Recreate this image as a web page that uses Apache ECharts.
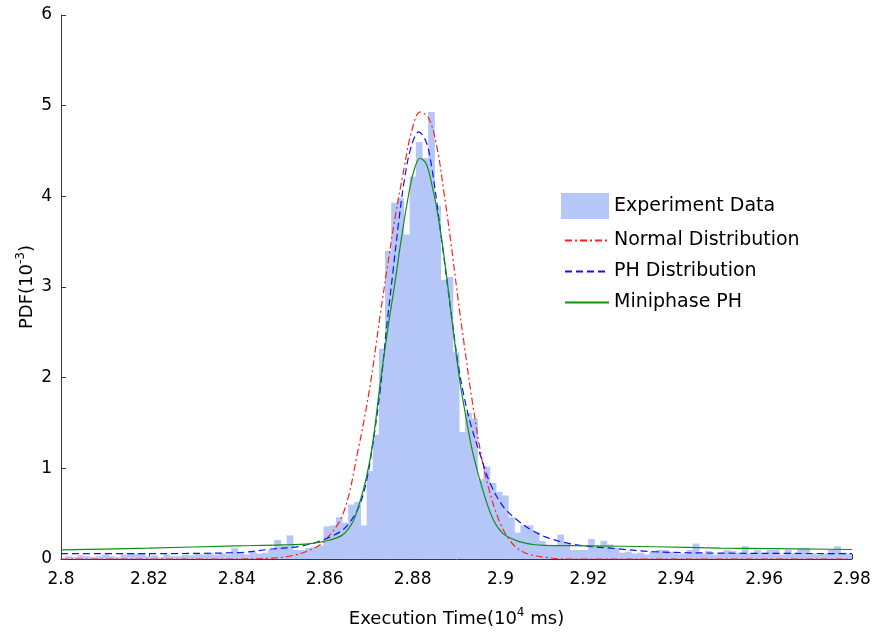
<!DOCTYPE html>
<html>
<head>
<meta charset="utf-8">
<script src="https://cdn.jsdelivr.net/npm/echarts@6/dist/echarts.min.js"></script>
<style>
  html, body { margin: 0; padding: 0; background: #fff; }
  #chart { width: 874px; height: 633px; }
</style>
</head>
<body>
<div id="chart"></div>
<script>
// ---- data ----
const xTicks = [2.8, 2.82, 2.84, 2.86, 2.88, 2.9, 2.92, 2.94, 2.96, 2.98];
const yTicks = [0, 1, 2, 3, 4, 5, 6];

// histogram bins: first left edge and bin width, then bar heights
const binStart = 2.80094;
const binWidth = 0.0014;
const histValues = [
  0.03,0.02,0.04,0.03,0.02,0.03,0.05,0.03,0.02,0.05,
  0.06,0.06,0.06,0.03,0.04,0.02,0.05,0.03,0.03,0.05,
  0.04,0.06,0.05,0.07,0.05,0.06,0.05,0.12,0.07,0.05,
  0.08,0.06,0.07,0.10,
  0.21,0.15,0.26,0.10,0.10,0.12,0.13,0.15,0.36,0.37,0.46,0.40,0.60,0.63,0.37,0.97,1.37,2.32,
  3.40,3.93,3.98,3.58,4.22,4.60,4.42,4.93,3.90,3.08,3.11,2.28,1.40,1.61,1.55,
  0.88,1.02,0.84,0.74,0.70,0.46,0.29,0.37,0.37,0.30,
  0.20,0.15,0.15,0.27,0.17,0.10,0.10,0.10,0.22,0.14,0.20,0.16,
  0.12,0.07,0.08,0.06,0.07,0.05,0.08,0.10,0.10,0.08,
  0.05,0.06,0.10,0.17,0.06,0.09,0.05,0.06,0.10,0.09,
  0.07,0.14,0.06,0.10,0.06,0.10,0.10,0.05,0.10,0.06,
  0.12,0.12,0.06,0.05,0.06,0.10,0.14,0.07,0.06
];

const normalCurve = [
  [2.80,0],[2.84,0],[2.848,0.01],[2.852,0.03],[2.8567,0.1],[2.86,0.2],[2.8642,0.5],
  [2.8676,1.2],[2.8703,1.9],[2.8726,2.68],[2.8742,3.2],[2.8758,3.7],[2.8778,4.24],
  [2.8797,4.7],[2.8817,4.93],[2.8837,4.86],[2.8856,4.53],[2.8871,4.06],[2.8887,3.5],
  [2.8904,2.85],[2.8918,2.35],[2.8934,1.8],[2.8954,1.2],[2.8971,0.82],[2.8999,0.4],
  [2.9029,0.16],[2.906,0.06],[2.91,0.02],[2.915,0],[2.98,0]
];
const phCurve = [
  [2.80,0.06],[2.82,0.06],[2.84,0.07],[2.848,0.11],[2.8544,0.14],[2.859,0.2],[2.8635,0.3],
  [2.8658,0.41],[2.868,0.6],[2.8696,0.88],[2.871,1.28],[2.8726,1.85],[2.8742,2.6],
  [2.8755,3.15],[2.8768,3.7],[2.8782,4.2],[2.8797,4.55],[2.8814,4.71],[2.8831,4.6],
  [2.8844,4.31],[2.8856,3.9],[2.8868,3.45],[2.888,3.0],[2.8892,2.56],[2.8903,2.17],
  [2.8916,1.82],[2.8932,1.49],[2.8954,1.15],[2.8976,0.84],[2.9006,0.58],[2.9038,0.43],
  [2.9074,0.31],[2.911,0.23],[2.9158,0.17],[2.92,0.14],[2.925,0.12],[2.935,0.08],
  [2.95,0.065],[2.98,0.06]
];
const miniCurve = [
  [2.80,0.10],[2.82,0.12],[2.84,0.145],[2.85,0.155],[2.8567,0.17],[2.8612,0.21],
  [2.8642,0.27],[2.8665,0.42],[2.868,0.63],[2.8696,0.92],[2.871,1.3],[2.8726,1.92],
  [2.8744,2.55],[2.876,3.05],[2.8775,3.55],[2.879,3.99],[2.8803,4.28],
  [2.8817,4.42],[2.8831,4.36],[2.8844,4.13],[2.8856,3.84],[2.8867,3.5],[2.8878,3.1],
  [2.889,2.62],[2.8908,1.95],[2.8924,1.5],[2.8938,1.15],[2.8961,0.74],[2.8983,0.44],
  [2.9006,0.28],[2.9038,0.2],[2.9074,0.16],[2.91,0.15],[2.92,0.145],[2.935,0.135],
  [2.95,0.12],[2.98,0.105]
];

const seriesNames = ['Experiment Data', 'Normal Distribution', 'PH Distribution', 'Miniphase PH'];

// ---- build chart ----
const histData = histValues.map((v, i) => [binStart + i * binWidth, binStart + (i + 1) * binWidth, v]);
const FONT = 'DejaVu Sans';
const chart = echarts.init(document.getElementById('chart'), null, { renderer: 'canvas' });

chart.setOption({
  backgroundColor: '#ffffff',
  animation: false,
  grid: { left: 61, right: 22, top: 15, bottom: 67, containLabel: false },
  legend: [
    {
      data: [{ name: seriesNames[0], icon: 'rect' }],
      left: 556, top: 188, itemWidth: 48, itemHeight: 26,
      selectedMode: false,
      textStyle: { fontFamily: FONT, fontSize: 19, color: '#000' }
    },
    {
      data: [seriesNames[1], seriesNames[2], seriesNames[3]],
      orient: 'vertical', left: 559, top: 226, itemWidth: 44, itemHeight: 20, itemGap: 12,
      selectedMode: false,
      itemStyle: { opacity: 0 },
      textStyle: { fontFamily: FONT, fontSize: 19, color: '#000' }
    }
  ],
  xAxis: {
    type: 'value', min: 2.8, max: 2.98, interval: 0.02,
    name: 'Execution Time(10{sup|4} ms)',
    nameLocation: 'middle', nameGap: 48,
    nameMoveOverlap: false,
    nameTextStyle: {
      fontFamily: FONT, fontSize: 18, color: '#000',
      rich: { sup: { fontFamily: FONT, fontSize: 12, color: '#000', verticalAlign: 'top', padding: [0, 0, 12, 0] } }
    },
    axisLine: { show: true, lineStyle: { color: '#3a3a3a', width: 1 } },
    axisTick: { show: true, inside: true, length: 5, lineStyle: { color: '#3a3a3a' } },
    axisLabel: {
      fontFamily: FONT, fontSize: 17, color: '#000', margin: 12,
      formatter: v => String(+v.toFixed(2))
    },
    splitLine: { show: false }
  },
  yAxis: {
    type: 'value', min: 0, max: 6, interval: 1,
    name: 'PDF(10{sup|-3})',
    nameLocation: 'middle', nameGap: 22, nameRotate: 90,
    nameMoveOverlap: false,
    nameTextStyle: {
      fontFamily: FONT, fontSize: 18, color: '#000',
      rich: { sup: { fontFamily: FONT, fontSize: 12, color: '#000', padding: [0, 0, 12, 0] } }
    },
    axisLine: { show: true, lineStyle: { color: '#3a3a3a', width: 1 } },
    axisTick: { show: true, inside: true, length: 5, lineStyle: { color: '#3a3a3a' } },
    axisLabel: { fontFamily: FONT, fontSize: 17, color: '#000', margin: 9 },
    splitLine: { show: false }
  },
  series: [
    {
      name: seriesNames[0],
      type: 'custom',
      clip: true,
      data: histData,
      encode: { x: [0, 1], y: 2 },
      itemStyle: { color: '#b4c7f8' },
      renderItem: function (params, api) {
        const p0 = api.coord([api.value(0), api.value(2)]);
        const p1 = api.coord([api.value(1), 0]);
        return {
          type: 'rect',
          shape: { x: p0[0], y: p0[1], width: p1[0] - p0[0] + 0.6, height: p1[1] - p0[1] },
          style: { fill: '#b4c7f8' }
        };
      },
      z: 1
    },
    {
      name: seriesNames[1], type: 'line', data: normalCurve, smooth: 0.35,
      symbol: 'none', lineStyle: { color: '#ff2020', width: 1.2, type: [7, 3, 2, 3] },
      itemStyle: { color: '#ff2020' }, z: 3
    },
    {
      name: seriesNames[2], type: 'line', data: phCurve, smooth: 0.35,
      symbol: 'none', lineStyle: { color: '#1010ff', width: 1.2, type: [7, 4] },
      itemStyle: { color: '#1010ff' }, z: 4
    },
    {
      name: seriesNames[3], type: 'line', data: miniCurve, smooth: 0.35,
      symbol: 'none', lineStyle: { color: '#109010', width: 1.2, type: 'solid' },
      itemStyle: { color: '#109010' }, z: 5
    }
  ]
});
</script>
</body>
</html>
